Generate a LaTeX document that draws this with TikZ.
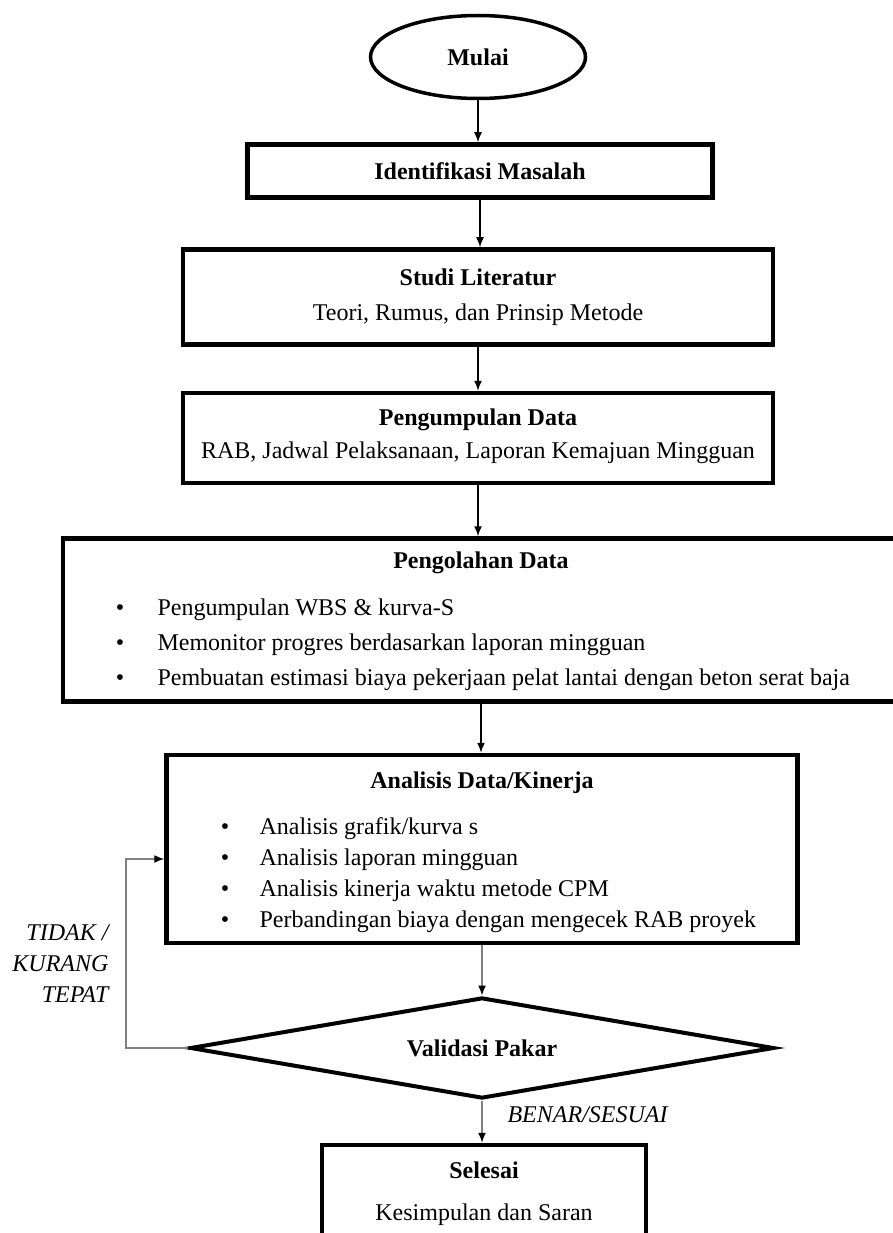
\documentclass[tikz,border=0pt]{standalone}
\usepackage{fontspec}
\setmainfont{Liberation Serif}
\usetikzlibrary{shapes.geometric,arrows.meta}

\tikzset{
	kotak/.style={draw, rectangle, line width=4.5pt, inner sep=0pt},
	judul/.style={font=\fontsize{24}{28}\selectfont\bfseries},
	isi/.style={font=\fontsize{24}{28}\selectfont},
	ket/.style={font=\fontsize{24}{31}\selectfont\itshape},
	panah/.style={-{Latex[length=10pt,width=8pt]}, line width=1.5pt},
	panahabu/.style={-{Latex[length=10pt,width=8pt,color=black]}, draw=gray, line width=1.5pt}
}

\begin{document}
\begin{tikzpicture}[x=1pt, y=-1pt]
		\clip (0,0) rectangle (893,1233);
		\def\olahList{Pengumpulan WBS \& kurva-S, Memonitor progres berdasarkan laporan mingguan, Pembuatan estimasi biaya pekerjaan pelat lantai dengan beton serat baja}
		\def\analisisList{Analisis grafik/kurva s, Analisis laporan mingguan, Analisis kinerja waktu metode CPM, Perbandingan biaya dengan mengecek RAB proyek}
		\node[draw, ellipse, line width=3.5pt, minimum width=215pt, minimum height=83pt, judul] (mulai) at (478,57) {Mulai};
		\node[kotak, minimum width=465pt, minimum height=53pt, judul] (identifikasi) at (480,171) {Identifikasi Masalah};
		\node[kotak, minimum width=590pt, minimum height=95pt] (studi) at (478,297) {};
		\node[judul] (studijudul) at (478,277) {Studi Literatur};
		\node[isi] (studiisi) at (478,315) {Teori, Rumus, dan Prinsip Metode};
		\node[kotak, minimum width=590pt, minimum height=90pt] (kumpul) at (478,438) {};
		\node[judul] (kumpuljudul) at (478,420) {Pengumpulan Data};
		\node[isi] (kumpulisi) at (478,453) {RAB, Jadwal Pelaksanaan, Laporan Kemajuan Mingguan};
		\node[kotak, minimum width=836pt, minimum height=163pt] (olah) at (481,620) {};
		\node[judul] (olahjudul) at (481,563) {Pengolahan Data};
		\foreach \teks [count=\i] in \olahList {
			\node[isi] (titikolah\i) at (120,575+35*\i) {\textbullet};
			\node[isi, anchor=west] (olah\i) at (154,575+35*\i) {\teks};
		}
		\node[kotak, minimum width=631pt, minimum height=188pt] (analisis) at (482,849) {};
		\node[judul] (analisisjudul) at (482,783) {Analisis Data/Kinerja};
		\foreach \teks [count=\i] in \analisisList {
			\node[isi] (titikanalisis\i) at (225,798+31*\i) {\textbullet};
			\node[isi, anchor=west] (analisis\i) at (256,798+31*\i) {\teks};
		}
		\node[draw, diamond, aspect=5.8, line width=4pt, inner sep=0pt, minimum width=584pt, minimum height=101pt, judul] (validasi) at (482,1048) {Validasi Pakar};
		\node[kotak, minimum width=324pt, minimum height=140pt] (selesai) at (484,1215) {};
		\node[judul] (selesaijudul) at (484,1170) {Selesai};
		\node[isi] (selesaiisi) at (484,1215) {Kesimpulan dan Saran};
		\node[ket, align=right, anchor=east] (tidak) at (112,964) {TIDAK /\\KURANG\\TEPAT};
		\node[ket, anchor=west] (benar) at (504,1115) {BENAR/SESUAI};
		\coordinate (belok) at (126,859);
		\draw[panah] (mulai) -- (mulai |- identifikasi.north);
		\draw[panah] (identifikasi) -- (identifikasi |- studi.north);
		\draw[panah] (studi) -- (studi |- kumpul.north);
		\draw[panah] (kumpul) -- (kumpul |- olah.north);
		\draw[panah] (olah) -- (olah |- analisis.north);
		\draw[panahabu] (analisis) -- (analisis |- validasi.north);
		\draw[panahabu] (validasi) -- (validasi |- selesai.north);
		\draw[panahabu] (validasi.west) -| (belok) -- (belok -| analisis.west);
	\end{tikzpicture}
\end{document}
